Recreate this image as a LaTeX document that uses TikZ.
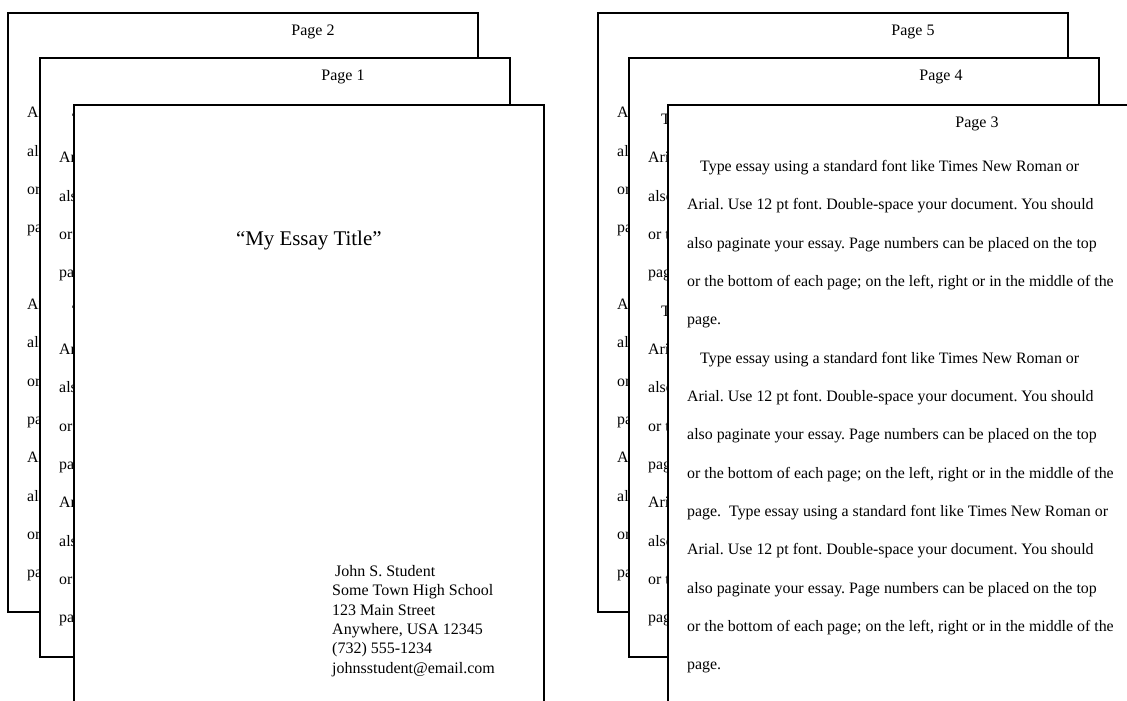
\documentclass[tikz,border=0pt]{standalone}
\usepackage{fontspec}
\setmainfont{Liberation Serif}
\usepackage{tikz}
\usetikzlibrary{positioning}
\frenchspacing
\tikzset{
    sheet/.style = {rectangle, draw=black, fill=white, line width=1.6pt, minimum width=470pt, minimum height=599pt, anchor=north west, inner sep=0pt},
    pagenum/.style = {inner sep=0pt, font=\fontsize{16}{19}\selectfont},
    body/.style = {align=left, inner sep=0pt, anchor=north west, font=\fontsize{15.9}{38.35}\selectfont},
    essaytitle/.style = {inner sep=0pt, font=\fontsize{20.9}{25}\selectfont},
    address/.style = {align=left, inner sep=0pt, anchor=north west, font=\fontsize{16}{19.4}\selectfont}
}
% the essay text that every typed page carries
\newcommand{\essaybody}[1]{%
    \node [body] (#1-text) at ([xshift=20pt,yshift=-56pt]#1.north west) {%
        \hspace*{13pt}Type essay using a standard font like Times New Roman or\\
        Arial. Use 12 pt font. Double-space your document. You should\\
        also paginate your essay. Page numbers can be placed on the top\\
        or the bottom of each page; on the left, right or in the middle of the\\
        page.\\
        \hspace*{13pt}Type essay using a standard font like Times New Roman or\\
        Arial. Use 12 pt font. Double-space your document. You should\\
        also paginate your essay. Page numbers can be placed on the top\\
        or the bottom of each page; on the left, right or in the middle of the\\
        page.\ \ Type essay using a standard font like Times New Roman or\\
        Arial. Use 12 pt font. Double-space your document. You should\\
        also paginate your essay. Page numbers can be placed on the top\\
        or the bottom of each page; on the left, right or in the middle of the\\
        page.};
}
% one sheet: name, corner, page label, label offset
\newcommand{\essaysheet}[4]{%
    \node [sheet] (#1) at (#2) {};
    \node [pagenum] (#1-num) at ([xshift=#4pt,yshift=-20pt]#1.north west) {#3};
    \essaybody{#1}
}

\begin{document}
\begin{tikzpicture}[x=1pt, y=-1pt]
    \useasboundingbox (0,0) rectangle (1127,701);
    \clip (0,0) rectangle (1127,701);

    % left stack
    \essaysheet{page2}{7,12}{Page 2}{306}
    \essaysheet{page1}{39,57}{Page 1}{304}
    \node [sheet] (cover) at (73,104) {};
    \node [essaytitle] (cover-title) at ([yshift=-137pt]cover.north) {“My Essay Title”};
    \node [address] (cover-address) at ([xshift=259pt,yshift=-461pt]cover.north west) {%
        \hspace*{3pt}John S. Student\\
        Some Town High School\\
        123 Main Street\\
        Anywhere, USA 12345\\
        (732) 555-1234\\
        johnsstudent@email.com};

    % right stack
    \essaysheet{page5}{597,12}{Page 5}{316}
    \essaysheet{page4}{628,57}{Page 4}{313}
    \essaysheet{page3}{667,104}{Page 3}{310}
\end{tikzpicture}
\end{document}
